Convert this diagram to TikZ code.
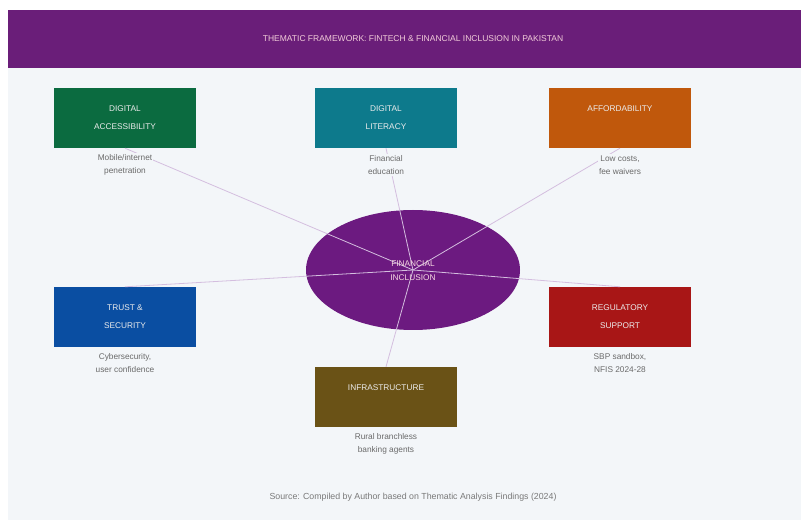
\documentclass[tikz,border=0pt]{standalone}
\usepackage{fontspec}
\setmainfont{Liberation Sans}
\usetikzlibrary{shapes.geometric}
\definecolor{panel}{HTML}{F3F6F9}
\definecolor{titlebar}{HTML}{6A1E79}
\definecolor{cgreen}{HTML}{0B6B40}
\definecolor{cteal}{HTML}{0D7A8C}
\definecolor{corange}{HTML}{C0580C}
\definecolor{cblue}{HTML}{0A4EA2}
\definecolor{cred}{HTML}{A81616}
\definecolor{cbrown}{HTML}{6A5216}
\definecolor{cpurple}{HTML}{6C1A80}
\definecolor{linkc}{HTML}{D4BEDF}
\definecolor{labc}{HTML}{6A6A6A}
\begin{document}
\begin{tikzpicture}[x=1pt,y=-1pt,
  themebox/.style={draw=none,minimum width=142pt,minimum height=60pt,inner sep=0pt,
     text=white!85!gray,font=\fontsize{8.3}{18}\selectfont,align=center},
  sublabel/.style={fill=panel,inner sep=1pt,text=labc,font=\fontsize{8.3}{13.5}\selectfont,align=center},
  link/.style={draw=linkc,line width=0.8pt}]
\useasboundingbox (0,0) rectangle (809,526);
\fill[white] (0,0) rectangle (809,526);
\fill[panel] (8,10) rectangle (801,520);
\fill[titlebar] (8,10) rectangle (801,68);
\node[text=white!80!purple,font=\fontsize{8.5}{10}\selectfont] (title) at (413,39)
  {THEMATIC FRAMEWORK: FINTECH \& FINANCIAL INCLUSION IN PAKISTAN};

\node[ellipse,fill=cpurple,minimum width=214pt,minimum height=120pt,inner sep=0pt] (core) at (413,270) {};

\node[themebox,fill=cgreen] (acc) at (125,118) {DIGITAL\\ACCESSIBILITY};
\node[themebox,fill=cteal] (lit) at (386,118) {DIGITAL\\LITERACY};
\node[themebox,fill=corange] (aff) at (620,118) {AFFORDABILITY\\\phantom{X}};
\node[themebox,fill=cblue] (tru) at (125,317) {TRUST \&\\SECURITY};
\node[themebox,fill=cred] (reg) at (620,317) {REGULATORY\\SUPPORT};
\node[themebox,fill=cbrown] (inf) at (386,397) {INFRASTRUCTURE\\\phantom{X}};

\draw[link] (acc.south) -- (core.center);
\draw[link] (lit.south) -- (core.center);
\draw[link] (aff.south) -- (core.center);
\draw[link] (tru.north) -- (core.center);
\draw[link] (reg.north) -- (core.center);
\draw[link] (inf.north) -- (core.center);

\node[text=white!85!purple,font=\fontsize{8.3}{14}\selectfont,align=center] (corelab) at (413,271) {FINANCIAL\\INCLUSION};

\node[sublabel] (accl) at (125,165) {Mobile/internet\\penetration};
\node[sublabel] (litl) at (386,165) {Financial\\education};
\node[sublabel] (affl) at (620,165) {Low costs,\\fee waivers};
\node[sublabel] (trul) at (125,363) {Cybersecurity,\\user confidence};
\node[sublabel] (regl) at (620,363) {SBP sandbox,\\NFIS 2024-28};
\node[sublabel] (infl) at (386,444) {Rural branchless\\banking agents};

\node[text=labc!90!white,font=\fontsize{8.8}{10}\selectfont] (src) at (413,497)
  {Source: Compiled by Author based on Thematic Analysis Findings (2024)};
\end{tikzpicture}
\end{document}
